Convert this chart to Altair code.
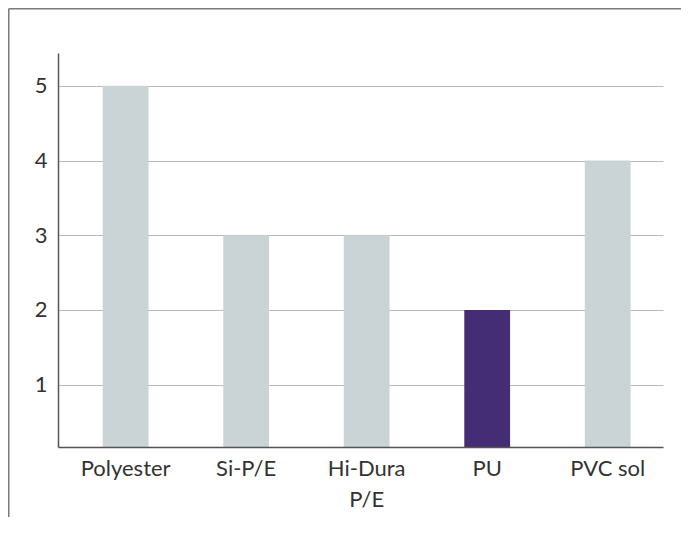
import altair as alt
import pandas as pd

categories = ["Polyester", "Si-P/E", "Hi-Dura\nP/E", "PU", "PVC sol"]
values = [5, 3, 3, 2, 4]
bar_colors = ["#cad3d5", "#cad3d5", "#cad3d5", "#452d76", "#cad3d5"]
y_ticks = [1, 2, 3, 4, 5]

df = pd.DataFrame({"Material": categories, "Value": values})

FONT = "Lato"

bars = alt.Chart(df).mark_bar(clip=True).encode(
    x=alt.X(
        "Material:N",
        sort=categories,
        scale=alt.Scale(paddingInner=0.62, paddingOuter=0.32, align=0.58),
        axis=alt.Axis(
            title=None,
            labelAngle=0,
            labelFont=FONT,
            labelFontSize=22,
            labelColor="#333333",
            labelPadding=11,
            labelLineHeight=31,
            labelExpr="split(datum.label, '\\n')",
            ticks=False,
            domainColor="#555555",
            domainWidth=1.5,
            grid=False,
            zindex=1,
        ),
    ),
    y=alt.Y(
        "Value:Q",
        scale=alt.Scale(domain=[0.165, 5.44], zero=False, nice=False),
        axis=alt.Axis(
            title=None,
            values=y_ticks,
            labelFont=FONT,
            labelFontSize=22,
            labelColor="#333333",
            labelPadding=11,
            ticks=False,
            domainColor="#555555",
            domainWidth=1.5,
            grid=True,
            gridColor="#b9b9b9",
            gridWidth=1.2,
        ),
    ),
    color=alt.Color(
        "Material:N",
        scale=alt.Scale(domain=categories, range=bar_colors),
        legend=None,
    ),
)

frame_df = pd.DataFrame({"k": [0]})
left_border = alt.Chart(frame_df).mark_rule(color="#7a7a7a", strokeWidth=1.5).encode(
    x=alt.value(-49.25), y=alt.value(-44.25), y2=alt.value(500)
)
top_border = alt.Chart(frame_df).mark_rule(color="#7a7a7a", strokeWidth=1.5).encode(
    x=alt.value(-49.25), x2=alt.value(700), y=alt.value(-44.25)
)

chart = alt.layer(bars, left_border, top_border).properties(
    width=605,
    height=394,
    padding={"left": 50, "top": 45, "right": 18, "bottom": 70},
    autosize=alt.AutoSizeParams(type="none"),
    background="white",
).configure_view(stroke=None)

chart.save("out.html", embed_options={"renderer": "svg", "actions": False})
